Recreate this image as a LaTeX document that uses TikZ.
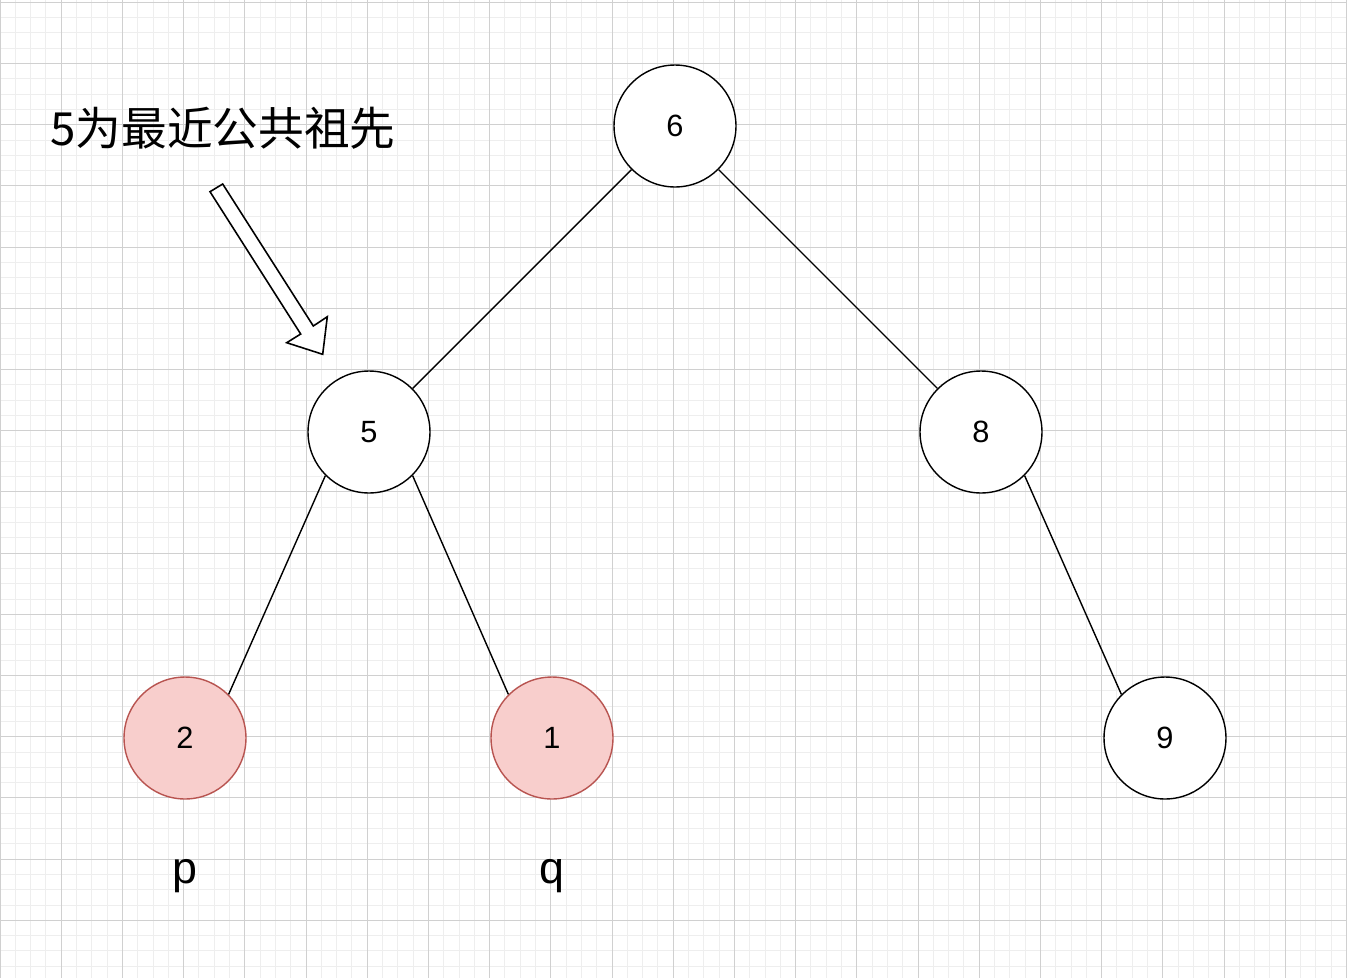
\documentclass[tikz,border=0pt]{standalone}
\usepackage{fontspec}
\setmainfont{Liberation Sans}
\newfontfamily\cjk{Noto Sans CJK SC}
\usetikzlibrary{positioning}
\definecolor{ink}{HTML}{000000}
\definecolor{hitfill}{HTML}{F8CECC}
\definecolor{hitline}{HTML}{B85450}
\definecolor{gridmajor}{HTML}{D0D0D0}
\definecolor{gridminor}{HTML}{EEEEEE}

\begin{document}
\begin{tikzpicture}[
  x=0.02cm, y=-0.02cm,
  % one unit is one pixel of the reference, y runs downwards
  vertex/.style = {circle, draw=ink, line width=0.8pt, fill=white,
                   minimum size=2.44cm, inner sep=0pt, font=\fontsize{17.5}{20}\selectfont},
  hit/.style    = {vertex, draw=hitline, fill=hitfill},
  edge/.style   = {draw=ink, line width=0.8pt},
  tag/.style    = {font=\fontsize{25.5}{28}\selectfont, inner sep=0pt, anchor=base},
  headline/.style = {font=\fontsize{26}{30}\selectfont\cjk, inner sep=0pt, anchor=base west},
  hint/.style   = {draw=ink, line width=0.9pt, fill=white, line join=miter},
]

% -------------------------------------------------------------------- grid --
\useasboundingbox[fill=white] (0,0) rectangle (1347,978);
\foreach \k in {0,...,88} \draw[gridminor, line width=0.5pt] (15.3*\k,0) -- (15.3*\k,978);
\foreach \k in {0,...,63} \draw[gridminor, line width=0.5pt] (0,2.3+15.3*\k) -- (1347,2.3+15.3*\k);
\foreach \k in {0,...,22} \draw[gridmajor, line width=0.5pt] (61.2*\k,0) -- (61.2*\k,978);
\foreach \k in {0,...,15} \draw[gridmajor, line width=0.5pt] (0,2.3+61.2*\k) -- (1347,2.3+61.2*\k);

% -------------------------------------------------------------------- tree --
\node[vertex] (n6) at (675,126) {6};
\node[vertex] (n5) at (369,432) {5};
\node[vertex] (n8) at (981,432) {8};
\node[hit]    (n2) at (185,738) {2};
\node[hit]    (n1) at (552,738) {1};
\node[vertex] (n9) at (1165,738) {9};

\draw[edge] (n6.south west) -- (n5.north east);
\draw[edge] (n6.south east) -- (n8.north west);
\draw[edge] (n5.south west) -- (n2.north east);
\draw[edge] (n5.south east) -- (n1.north west);
\draw[edge] (n8.south east) -- (n9.north west);

% ------------------------------------------------------------------ labels --
\node[tag] (p) at (185,883) {p};
\node[tag] (q) at (552,883) {q};
\node[headline] (title) at (50,145) {5为最近公共祖先};

% ------------------------------------------------------------- block arrow --
\draw[hint] (210,191.7) -- (222.7,184) -- (313.3,326) -- (327.3,316.7)
  -- (322.7,354.3) -- (286.7,342.7) -- (300.7,334) -- cycle;

\end{tikzpicture}
\end{document}
